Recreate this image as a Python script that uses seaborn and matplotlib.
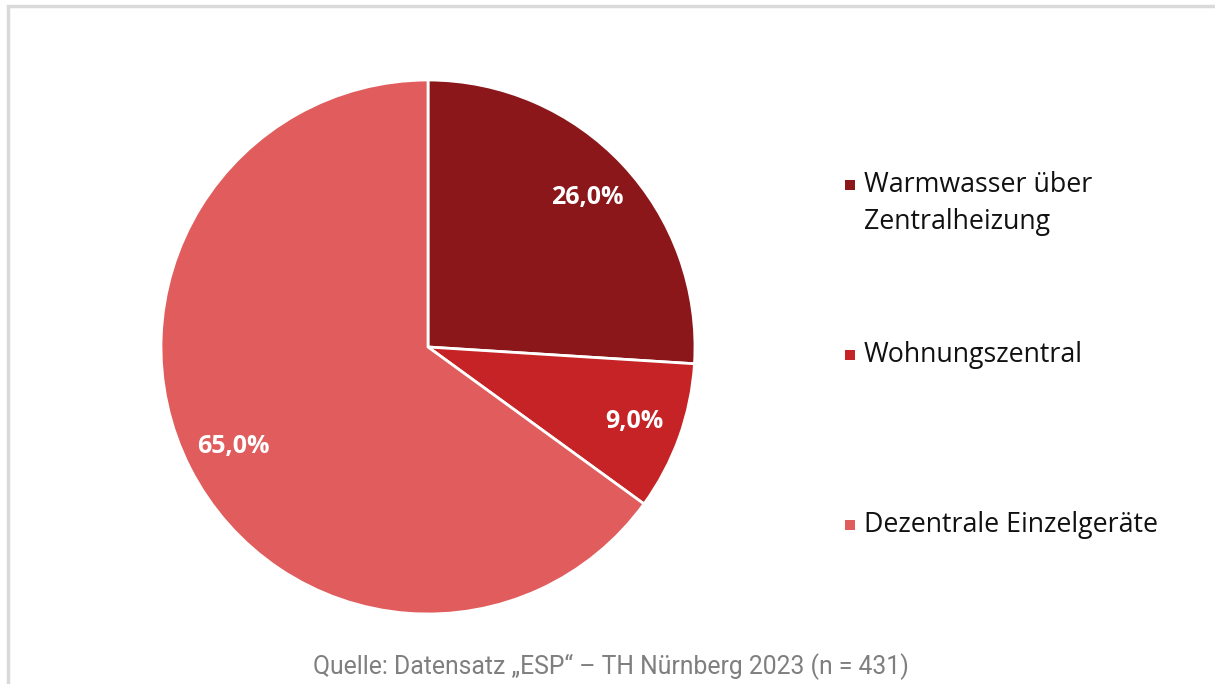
import matplotlib
matplotlib.use("Agg")
import matplotlib.pyplot as plt
import seaborn as sns
from matplotlib.patches import Rectangle

categories = ["Warmwasser über\nZentralheizung", "Wohnungszentral", "Dezentrale Einzelgeräte"]
values = [26.0, 9.0, 65.0]
colors = ["#8B171A", "#C62326", "#E15C5C"]
source = "Quelle: Datensatz „ESP“ – TH Nürnberg 2023 (n = 431)"

sns.set_theme(style="white")
plt.rcParams["font.family"] = ["Open Sans", "DejaVu Sans"]

W, H = 1215, 684
fig = plt.figure(figsize=(W / 100, H / 100), dpi=100)
fig.patch.set_facecolor("white")

# frame
fig.patches.append(Rectangle((8 / W, -0.1), 1.2, (H - 6) / H + 0.1, transform=fig.transFigure,
                             fill=False, edgecolor="#D9D9D9", linewidth=2.5, zorder=0))

cx, cy, r = 428, 347, 267
ax = fig.add_axes([(cx - r) / W, (H - cy - r) / H, 2 * r / W, 2 * r / H])
wedges, texts, autotexts = ax.pie(
    values, colors=colors, startangle=90, counterclock=False, radius=1,
    autopct=lambda p: f"{p:.1f}%".replace(".", ","), pctdistance=0.82,
    wedgeprops=dict(edgecolor="white", linewidth=2),
    textprops=dict(color="white", fontsize=18, fontweight="bold"))
ax.set_xlim(-1.0, 1.0)
ax.set_ylim(-1.0, 1.0)
ax.set_aspect("auto")
ax.axis("off")

# legend
ys = [185, 355, 525]
for lab, col, y in zip(categories, colors, ys):
    fig.patches.append(Rectangle((845 / W, (H - y - 5) / H), 10 / W, 10 / H,
                                 transform=fig.transFigure, facecolor=col, edgecolor="none"))
    lines = lab.split("\n")
    for i, line in enumerate(lines):
        fig.text(864 / W, (H - y - 37 * i) / H, line, fontsize=19.3, color="#111111",
                 va="center", ha="left")

fig.text(611 / W, (H - 667) / H, source, fontsize=17.8, color="#7F7F7F", ha="center", va="center",
         family=["Roboto", "DejaVu Sans"])

fig.savefig("out.png", dpi=100)
